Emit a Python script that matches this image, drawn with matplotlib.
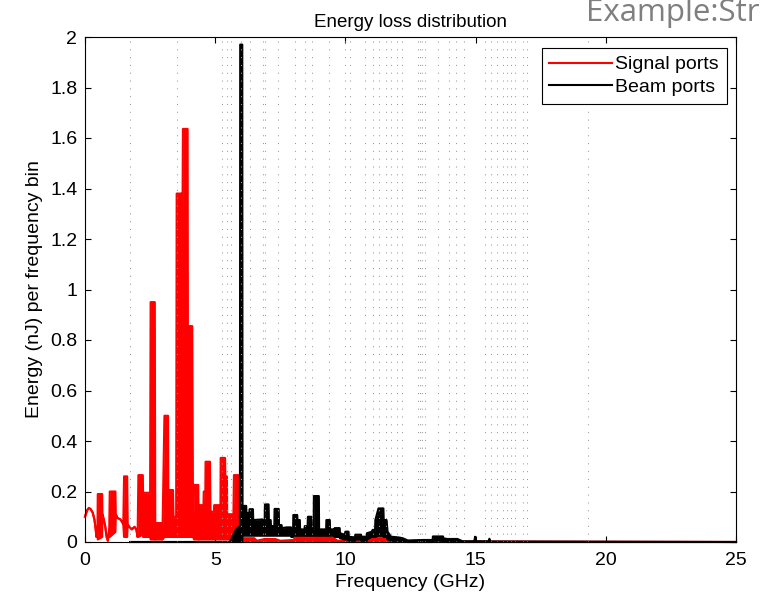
import matplotlib
matplotlib.use("Agg")
import matplotlib.pyplot as plt

plt.rcParams['font.family'] = ['Liberation Sans', 'DejaVu Sans']

# signal ports: frequency (GHz), upper and lower edge of the trace (nJ)
red_f = [0.00, 0.08, 0.15, 0.22, 0.30, 0.36, 0.40, 0.44, 0.48, 0.49, 0.66, 0.67, 0.72, 0.78,
         0.83, 0.88, 0.93, 0.95, 1.17, 1.18, 1.25, 1.35, 1.42, 1.47, 1.50, 1.62, 1.64, 1.70,
         1.80, 1.90, 1.97, 2.02, 2.05, 2.22, 2.23, 2.50, 2.52, 2.68, 2.70, 2.72, 2.94, 2.97,
         3.05, 3.19, 3.20, 3.38, 3.40, 3.50, 3.52, 3.71, 3.72, 3.76, 3.94, 3.95, 4.12, 4.15,
         4.19, 4.35, 4.37, 4.40, 4.55, 4.56, 4.62, 4.63, 4.80, 4.83, 4.86, 4.95, 4.96, 5.15,
         5.16, 5.20, 5.21, 5.38, 5.39, 5.45, 5.46, 5.70, 5.72, 5.88, 5.91, 6.05, 6.10, 6.50,
         6.60, 6.90, 7.30, 7.50, 8.00, 8.10, 9.00, 9.50, 9.70, 10.50, 10.60, 11.10, 11.50,
         12.00, 12.20, 13.40, 13.80, 14.00, 25.00]
red_hi = [0.100, 0.125, 0.135, 0.130, 0.115, 0.090, 0.060, 0.020, 0.060, 0.190, 0.190, 0.110,
          0.090, 0.060, 0.020, 0.005, 0.050, 0.200, 0.200, 0.110, 0.095, 0.090, 0.080, 0.070,
          0.260, 0.260, 0.070, 0.060, 0.050, 0.060, 0.050, 0.020, 0.265, 0.265, 0.195, 0.195,
          0.950, 0.950, 0.010, 0.075, 0.075, 0.010, 0.500, 0.500, 0.206, 0.206, 0.100, 0.100,
          1.380, 1.380, 0.760, 1.636, 1.636, 0.855, 0.855, 0.020, 0.226, 0.226, 0.010, 0.146,
          0.146, 0.200, 0.200, 0.318, 0.318, 0.020, 0.120, 0.120, 0.146, 0.146, 0.120, 0.120,
          0.333, 0.333, 0.260, 0.260, 0.110, 0.110, 0.265, 0.265, 0.005, 0.005, 0.015, 0.015,
          0.005, 0.012, 0.012, 0.005, 0.008, 0.020, 0.022, 0.018, 0.005, 0.005, 0.015, 0.020,
          0.022, 0.010, 0.003, 0.008, 0.008, 0.002, 0.000]
red_lo = [0.100, 0.125, 0.135, 0.130, 0.115, 0.090, 0.060, 0.020, 0.060, 0.010, 0.020, 0.110,
          0.090, 0.060, 0.020, 0.005, 0.050, 0.020, 0.040, 0.110, 0.095, 0.090, 0.080, 0.070,
          0.020, 0.020, 0.070, 0.060, 0.050, 0.060, 0.050, 0.020, 0.020, 0.030, 0.020, 0.020,
          0.010, 0.010, 0.010, 0.010, 0.010, 0.010, 0.020, 0.020, 0.020, 0.020, 0.020, 0.020,
          0.020, 0.020, 0.020, 0.020, 0.020, 0.020, 0.020, 0.020, 0.010, 0.010, 0.010, 0.010,
          0.010, 0.010, 0.010, 0.010, 0.010, 0.010, 0.010, 0.010, 0.010, 0.010, 0.010, 0.010,
          0.010, 0.010, 0.010, 0.010, 0.010, 0.010, 0.010, 0.010, 0.000, 0.000, 0.000, 0.000,
          0.000, 0.000, 0.000, 0.000, 0.000, 0.000, 0.000, 0.000, 0.000, 0.000, 0.000, 0.000,
          0.000, 0.000, 0.000, 0.000, 0.000, 0.000, 0.000]

# beam ports
blk_f = [1.73, 5.55, 5.62, 5.70, 5.80, 5.90, 5.95, 5.96, 6.04, 6.05, 6.19, 6.20, 6.31, 6.32,
         6.45, 6.46, 6.90, 6.91, 7.05, 7.06, 7.13, 7.14, 7.27, 7.28, 7.44, 7.45, 7.55, 7.56,
         7.75, 7.91, 7.92, 7.99, 8.00, 8.15, 8.16, 8.25, 8.26, 8.43, 8.44, 8.55, 8.56, 8.69,
         8.70, 8.78, 8.79, 8.98, 8.99, 9.26, 9.27, 9.40, 9.41, 9.58, 9.59, 9.78, 9.79, 9.97,
         10.00, 10.12, 10.13, 10.37, 10.38, 10.60, 10.61, 10.82, 10.83, 11.00, 11.05, 11.14,
         11.15, 11.27, 11.46, 11.47, 11.58, 11.62, 11.75, 12.05, 12.20, 12.40, 13.00, 13.35,
         13.36, 13.75, 13.76, 13.90, 14.30, 14.50, 14.95, 14.98, 15.01, 15.50, 15.53, 15.56,
         25.00]
blk_hi = [0.000, 0.000, 0.010, 0.030, 0.050, 0.060, 0.060, 1.970, 1.970, 0.143, 0.143, 0.115,
          0.115, 0.130, 0.130, 0.087, 0.090, 0.149, 0.149, 0.087, 0.087, 0.063, 0.063, 0.131,
          0.131, 0.067, 0.067, 0.055, 0.058, 0.058, 0.035, 0.035, 0.107, 0.107, 0.087, 0.087,
          0.050, 0.050, 0.063, 0.063, 0.100, 0.100, 0.050, 0.050, 0.182, 0.182, 0.050, 0.050,
          0.087, 0.087, 0.050, 0.050, 0.055, 0.055, 0.035, 0.029, 0.041, 0.041, 0.021, 0.018,
          0.029, 0.029, 0.021, 0.021, 0.035, 0.040, 0.048, 0.048, 0.087, 0.133, 0.133, 0.087,
          0.087, 0.041, 0.021, 0.018, 0.015, 0.006, 0.008, 0.008, 0.022, 0.022, 0.015, 0.012,
          0.012, 0.003, 0.003, 0.021, 0.003, 0.003, 0.013, 0.002, 0.000]
blk_lo = [0.000, 0.000, 0.000, 0.000, 0.000, 0.000, 0.000, 0.000, 0.000, 0.025, 0.025, 0.025,
          0.025, 0.025, 0.025, 0.025, 0.025, 0.025, 0.025, 0.025, 0.025, 0.025, 0.025, 0.025,
          0.025, 0.025, 0.025, 0.025, 0.025, 0.025, 0.020, 0.020, 0.025, 0.025, 0.025, 0.025,
          0.025, 0.025, 0.025, 0.025, 0.025, 0.025, 0.025, 0.025, 0.025, 0.025, 0.025, 0.025,
          0.025, 0.025, 0.025, 0.025, 0.020, 0.020, 0.015, 0.010, 0.010, 0.010, 0.005, 0.005,
          0.010, 0.010, 0.005, 0.005, 0.010, 0.020, 0.020, 0.020, 0.020, 0.025, 0.025, 0.020,
          0.020, 0.010, 0.005, 0.005, 0.003, 0.000, 0.000, 0.000, 0.005, 0.005, 0.003, 0.000,
          0.000, 0.000, 0.000, 0.000, 0.000, 0.000, 0.000, 0.000, 0.000]

# dotted marker lines (mode frequencies, GHz)
mode_f = [1.72, 3.52, 5.25, 5.44, 5.59, 6.00, 6.35, 6.85, 6.90, 7.43, 8.06, 8.45, 8.70, 9.38,
          10.00, 10.19, 10.77, 11.07, 11.30, 11.57, 11.77, 11.97, 12.16, 12.80, 12.88, 12.96,
          13.05, 13.56, 13.97, 14.25, 14.55, 15.35, 15.58, 15.82, 16.05, 16.20, 16.35, 16.50,
          16.82, 16.97, 19.33]

x_ticks = [0, 5, 10, 15, 20, 25]
y_ticks = [0, 0.2, 0.4, 0.6, 0.8, 1, 1.2, 1.4, 1.6, 1.8, 2]
y_labels = ['0', '0.2', '0.4', '0.6', '0.8', '1', '1.2', '1.4', '1.6', '1.8', '2']

fig = plt.figure(figsize=(7.61, 6.01), dpi=100)
ax = fig.add_axes([85/761, 1 - 542/601, 651/761, 505/601])

# red trace
ax.fill_between(red_f, red_lo, red_hi, color='red', lw=0, zorder=2)
ax.plot(red_f, red_hi, color='red', lw=1.5, zorder=2, clip_on=False, label='Signal ports')
ax.plot(red_f, red_lo, color='red', lw=1.5, zorder=2, clip_on=False)

# black trace
ax.fill_between(blk_f, blk_lo, blk_hi, color='black', lw=0, zorder=2.1)
ax.plot(blk_f, blk_hi, color='black', lw=1.5, zorder=2.1, clip_on=False, label='Beam ports')
ax.plot(blk_f, blk_lo, color='black', lw=1.5, zorder=2.1, clip_on=False)

for f in mode_f:
    ax.axvline(f, color='#9a9a9a', lw=0.75, linestyle=(0, (1, 6.5)), zorder=3)

ax.set_xlim(0, 25)
ax.set_ylim(0, 2)
ax.set_xticks(x_ticks)
ax.set_xticklabels([str(t) for t in x_ticks])
ax.set_yticks(y_ticks)
ax.set_yticklabels(y_labels)
ax.tick_params(direction='in', top=True, right=True, length=4, width=0.8,
               labelsize=14, colors='black')
ax.tick_params(axis='x', pad=7.5)
ax.tick_params(axis='y', pad=5.5)
for s in ax.spines.values():
    s.set_linewidth(0.8)

ax.set_title('Energy loss distribution', fontsize=13.5, pad=7)
ax.set_xlabel('Frequency (GHz)', fontsize=14, labelpad=3)
ax.set_ylabel('Energy (nJ) per frequency bin', fontsize=14, labelpad=5)

leg = ax.legend(loc='upper right', bbox_to_anchor=(0.986, 0.978), borderaxespad=0,
                fontsize=14, handlelength=3.2, handletextpad=0.2, labelspacing=0.26,
                borderpad=0.4, fancybox=False, framealpha=1, edgecolor='black')
leg.get_frame().set_linewidth(0.8)

fig.text(586/761, 1 - 21.5/601, 'Example:Str', fontsize=22.5, color='#7f7f7f',
         family=['Open Sans', 'DejaVu Sans'], va='baseline', ha='left')

fig.savefig('out.png', dpi=100)
